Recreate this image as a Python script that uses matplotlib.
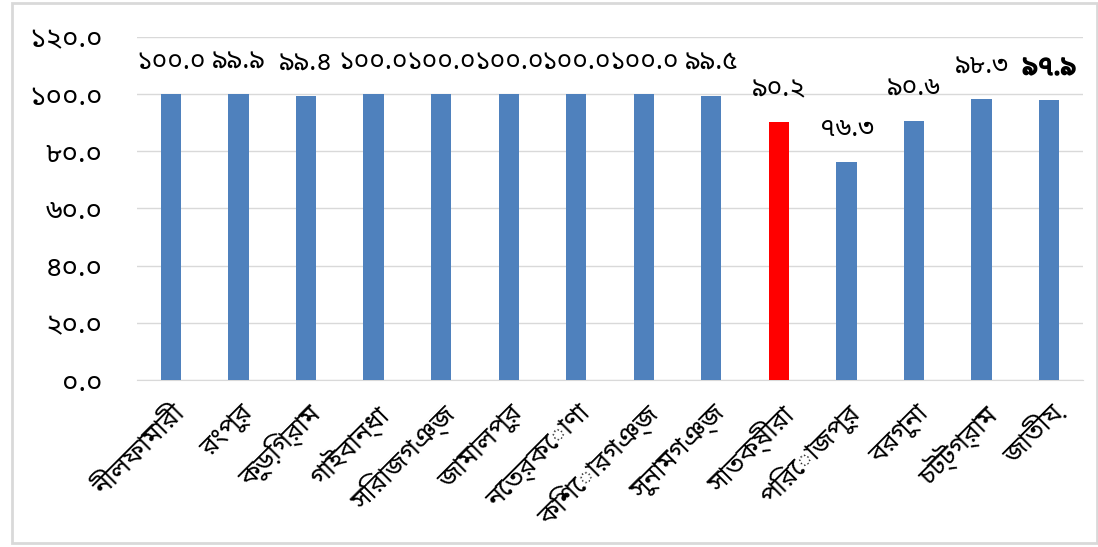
import matplotlib
matplotlib.use("Agg")
import matplotlib.pyplot as plt
import matplotlib.patheffects as pe
import numpy as np

plt.rcParams['font.family'] = ['Noto Sans Bengali', 'DejaVu Sans']

districts = ['নীলফামারী', 'রংপুর', 'কুড়িগ্রাম', 'গাইবান্ধা', 'সিরাজগঞ্জ', 'জামালপুর',
             'নেত্রকোণা', 'কিশোরগঞ্জ', 'সুনামগঞ্জ', 'সাতক্ষীরা', 'পিরোজপুর', 'বরগুনা',
             'চট্টগ্রাম', 'জাতীয়']
values = [100.0, 99.9, 99.4, 100.0, 100.0, 100.0, 100.0, 100.0, 99.5, 90.2, 76.3, 90.6, 98.3, 97.9]
highlight = 'সাতক্ষীরা'
yticks = [0, 20, 40, 60, 80, 100, 120]

bn_digits = str.maketrans('0123456789', '০১২৩৪৫৬৭৮৯')

def bangla(v):
    return f'{v:.1f}'.translate(bn_digits)

fig = plt.figure(figsize=(10.98, 5.47), dpi=100)
ax = fig.add_axes([0.1248, 0.3053, 0.8615, 0.6271])

x = np.arange(len(districts))
colors = ['#ff0000' if d == highlight else '#4f81bd' for d in districts]
ax.bar(x, values, width=0.3, color=colors, zorder=3)

for i, v in enumerate(values):
    t = ax.text(i, v + 6.5, bangla(v), ha='center', va='bottom', fontsize=19, zorder=4)
    if i == len(values) - 1:
        # last label is bold in the original
        t.set_path_effects([pe.withStroke(linewidth=1.2, foreground='black')])

ax.set_xlim(-0.5, len(districts) - 0.5)
ax.set_ylim(0, 120)
ax.set_yticks(yticks)
ax.set_yticklabels([bangla(t) for t in yticks], fontsize=20)
ax.set_xticks(x)
ax.set_xticklabels(districts, rotation=45, ha='right', rotation_mode='anchor', fontsize=19)
ax.tick_params(axis='x', length=0, pad=14)
ax.tick_params(axis='y', length=0, pad=25)
ax.grid(axis='y', color='#d9d9d9', linewidth=1, zorder=0)
for s in ['top', 'right', 'left']:
    ax.spines[s].set_visible(False)
ax.spines['bottom'].set_color('#d9d9d9')

border = plt.Rectangle((12 / 1098, 4 / 547), 1085 / 1098, 540 / 547, transform=fig.transFigure,
                       fill=False, edgecolor='#d9d9d9', linewidth=2)
fig.patches.append(border)

fig.savefig('out.png', dpi=100)
